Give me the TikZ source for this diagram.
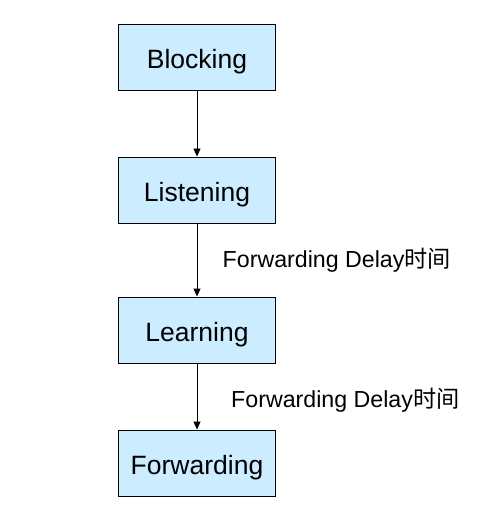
\documentclass[tikz,border=0pt]{standalone}
\usepackage{fontspec}
\setmainfont{Liberation Sans}
\newfontfamily\cjk{Noto Sans CJK SC}
\usetikzlibrary{arrows.meta}
\definecolor{boxfill}{HTML}{CCECFF}
\tikzset{
  state/.style={draw=black, line width=0.9pt, fill=boxfill, minimum width=157pt, minimum height=66pt, inner sep=0pt, text height=23pt, text depth=0pt, font=\fontsize{26.5}{30}\selectfont},
  conn/.style={line width=0.9pt, -{Triangle[length=8pt,width=7pt]}},
  lbl/.style={anchor=base west, inner sep=0pt, font=\fontsize{23.2}{27}\selectfont}
}
\begin{document}
\begin{tikzpicture}[x=1pt,y=-1pt]
\useasboundingbox (0,0) rectangle (487,510);
\node[state] (b) at (197,57.5) {Blocking};
\node[state] (li) at (197,190) {Listening};
\node[state] (le) at (197,330) {Learning};
\node[state] (f) at (197,463) {Forwarding};
\draw[conn] (b) -- (li);
\draw[conn] (li) -- (le);
\draw[conn] (le) -- (f);
\node[lbl] (l1) at (222.5,267) {Forwarding Delay{\cjk 时间}};
\node[lbl] (l2) at (231,407) {Forwarding Delay{\cjk 时间}};
\end{tikzpicture}
\end{document}
